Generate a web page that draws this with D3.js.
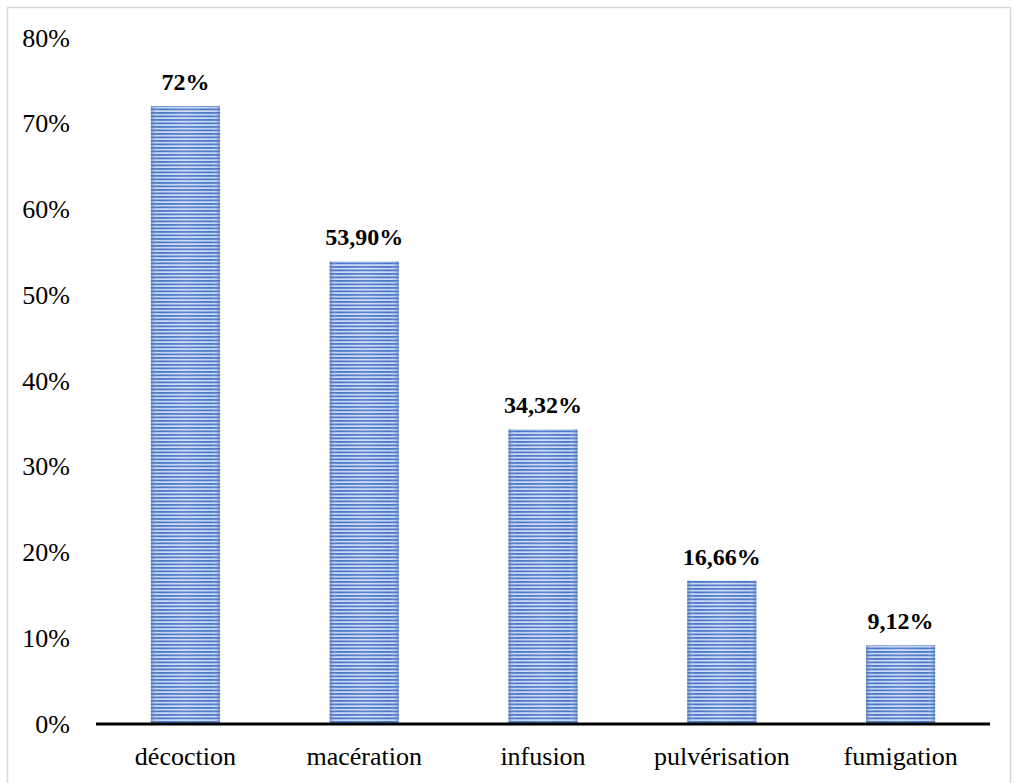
<!DOCTYPE html>
<html><head><meta charset="utf-8">
<script src="https://cdn.jsdelivr.net/npm/d3@7"></script>
<style>body{margin:0;background:#fff}svg{display:block}</style>
</head><body>
<script>
const categories = ["décoction","macération","infusion","pulvérisation","fumigation"];
const values = [72, 53.90, 34.32, 16.66, 9.12];
const valueLabels = ["72%","53,90%","34,32%","16,66%","9,12%"];
const yTicks = [0,10,20,30,40,50,60,70,80];

const W = 1015, H = 783;
const svg = d3.select("body").append("svg").attr("width", W).attr("height", H);
const defs = svg.append("defs");
const pat = defs.append("pattern").attr("id","stripes").attr("patternUnits","userSpaceOnUse")
  .attr("width",8).attr("height",3.5);
pat.append("rect").attr("width",8).attr("height",3.5).attr("fill","#ccdaf3");
pat.append("rect").attr("y",0).attr("width",8).attr("height",1.8).attr("fill","#4673c8");
const grad = defs.append("linearGradient").attr("id","shade").attr("x1","0").attr("x2","1").attr("y1","0").attr("y2","0");
grad.append("stop").attr("offset","0").attr("stop-color","#2f5bb0").attr("stop-opacity",0.45);
grad.append("stop").attr("offset","0.12").attr("stop-color","#ffffff").attr("stop-opacity",0.0);
grad.append("stop").attr("offset","0.5").attr("stop-color","#ffffff").attr("stop-opacity",0.12);
grad.append("stop").attr("offset","0.88").attr("stop-color","#ffffff").attr("stop-opacity",0.0);
grad.append("stop").attr("offset","1").attr("stop-color","#2f5bb0").attr("stop-opacity",0.45);

svg.append("rect").attr("x",7.5).attr("y",7.5).attr("width",1003).attr("height",800)
  .attr("fill","none").attr("stroke","#d9d9d9").attr("stroke-width",1.5);

const x = d3.scaleBand().domain(categories).range([96,990]).paddingInner(0.614).paddingOuter(0.307);
const y = d3.scaleLinear().domain([0,80]).range([723.5,37.5]);

const font = "'Liberation Serif','Times New Roman',serif";

// y labels
svg.append("g").selectAll("text").data(yTicks).join("text")
  .attr("x",70).attr("y",d=>y(d)).attr("dy","0.35em").attr("text-anchor","end")
  .attr("font-family",font).attr("font-size",26).attr("fill","#000")
  .text(d=>d+"%");

const bars = svg.append("g");
bars.selectAll("rect.b").data(values).join("rect").attr("class","b")
  .attr("x",(d,i)=>x(categories[i])).attr("width",x.bandwidth())
  .attr("y",d=>y(d)).attr("height",d=>y(0)-y(d)).attr("fill","url(#stripes)");
bars.selectAll("rect.s").data(values).join("rect").attr("class","s")
  .attr("x",(d,i)=>x(categories[i])).attr("width",x.bandwidth())
  .attr("y",d=>y(d)).attr("height",d=>y(0)-y(d)).attr("fill","url(#shade)");

svg.append("g").selectAll("text").data(values).join("text")
  .attr("x",(d,i)=>x(categories[i])+x.bandwidth()/2).attr("y",d=>y(d)-16)
  .attr("text-anchor","middle").attr("font-family",font).attr("font-size",24)
  .attr("font-weight","bold").attr("fill","#000")
  .text((d,i)=>valueLabels[i]);

// x axis
svg.append("line").attr("x1",96).attr("x2",990).attr("y1",y(0)+0.5).attr("y2",y(0)+0.5)
  .attr("stroke","#000").attr("stroke-width",3);

svg.append("g").selectAll("text").data(categories).join("text")
  .attr("x",d=>x(d)+x.bandwidth()/2).attr("y",765)
  .attr("text-anchor","middle").attr("font-family",font).attr("font-size",26).attr("fill","#000")
  .text(d=>d);
</script>
</body></html>
